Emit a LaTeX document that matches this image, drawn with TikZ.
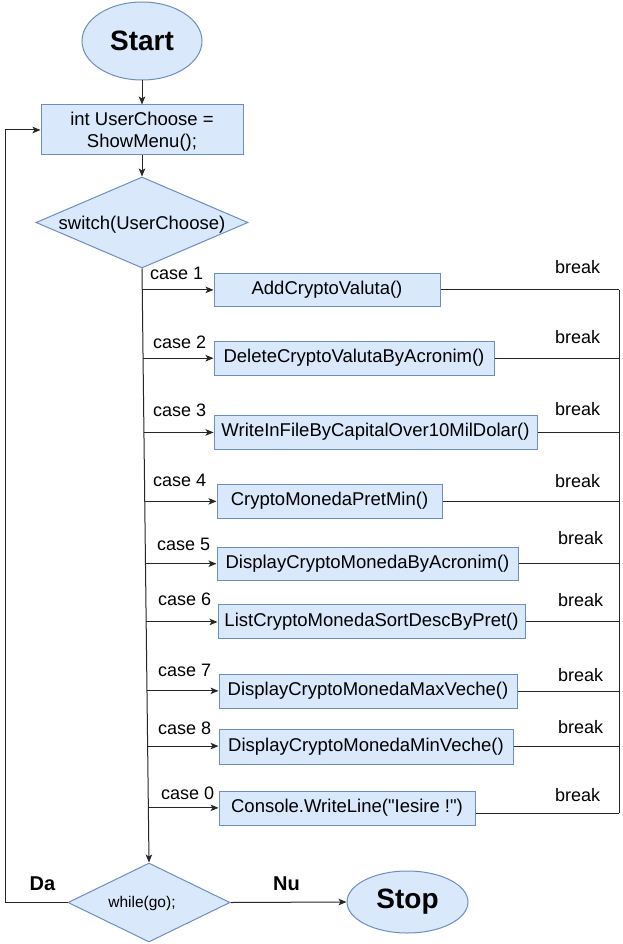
\documentclass[tikz,border=0pt]{standalone}
\usepackage{fontspec}
\setmainfont{Liberation Sans}[Ligatures=TeXOff]
\usetikzlibrary{shapes.geometric,arrows.meta,calc}
\definecolor{fillblue}{HTML}{DAE8FC}
\definecolor{strokeblue}{HTML}{6C8EBF}
\begin{document}
\begin{tikzpicture}[x=1pt,y=-1pt,
  blk/.style={draw=strokeblue,fill=fillblue,line width=1pt,inner sep=0pt},
  procbox/.style={blk,rectangle,font=\fontsize{18.5}{22}\selectfont},
  term/.style={blk,ellipse,font=\bfseries\fontsize{28}{32}\selectfont},
  decis/.style={blk,diamond},
  conn/.style={line width=1pt,draw=black!85},
  arr/.style={conn,-{Stealth[length=8pt,width=6.5pt,inset=2pt]}},
  lbl/.style={font=\fontsize{18}{20}\selectfont,inner sep=0pt,anchor=west},
  blbl/.style={font=\bfseries\fontsize{20}{22}\selectfont,inner sep=0pt}]
\fill[white] (0,0) rectangle (623,944);
\useasboundingbox (0,0) rectangle (623,944);

% main nodes
\node[term,minimum width=120pt,minimum height=78pt] (start) at (142,41) {Start};
\node[procbox,minimum width=202pt,minimum height=50pt,align=center,text depth=0pt] (init) at (142,130) {int UserChoose =\\[0pt]ShowMenu();};
\node[decis,minimum width=212pt,minimum height=91pt] (sw) at (142,222.5) {};
\node[font=\fontsize{18.5}{22}\selectfont,inner sep=0pt] (swt) at (142,225) {switch(UserChoose)};
\node[decis,minimum width=162pt,minimum height=79pt] (wh) at (149,902.5) {};
\node[font=\fontsize{15.5}{18}\selectfont,inner sep=0pt] (wht) at (142,903) {while(go);};
\node[term,minimum width=121pt,minimum height=62pt] (stop) at (407.5,902) {Stop};

% case boxes
\node[procbox,minimum width=226pt,minimum height=33pt] (c1) at (327,289.5) {AddCryptoValuta()};
\node[procbox,minimum width=280pt,minimum height=34pt] (c2) at (354,358) {DeleteCryptoValutaByAcronim()};
\node[procbox,minimum width=323pt,minimum height=34pt] (c3) at (375.5,432) {WriteInFileByCapitalOver10MilDolar()};
\node[procbox,minimum width=225pt,minimum height=34pt] (c4) at (329.5,501) {CryptoMonedaPretMin()};
\node[procbox,minimum width=301pt,minimum height=33pt] (c5) at (367.5,563.5) {DisplayCryptoMonedaByAcronim()};
\node[procbox,minimum width=307pt,minimum height=34pt] (c6) at (371.5,621.5) {ListCryptoMonedaSortDescByPret()};
\node[procbox,minimum width=298pt,minimum height=34pt] (c7) at (368,691) {DisplayCryptoMonedaMaxVeche()};
\node[procbox,minimum width=294pt,minimum height=35pt] (c8) at (366,746.5) {DisplayCryptoMonedaMinVeche()};
\node[procbox,minimum width=256pt,minimum height=34pt] (c0) at (347,808) {Console.WriteLine("Iesire !")};

% main flow
\draw[arr] (start.south) -- (init.north);
\draw[arr] (init.south) -- (sw.north);
\draw[arr] (sw.south) -- (wh.north);

% case arrows from main line
\foreach \b/\f in {c1/0.036,c2/0.151,c3/0.276,c4/0.392,c5/0.497,c6/0.595,c7/0.711,c8/0.804,c0/0.908}{
  \coordinate (s\b) at ($(sw.south)!\f!(wh.north)$);
  \draw[arr] (s\b) -- (s\b -| \b.west);
}

% break lines
\coordinate (rx) at (619,0);
\foreach \b in {c1,c2,c3,c4,c5,c6,c7,c8}{
  \draw[conn] (\b.east) -- (\b.east -| rx);
}
\coordinate (c0r) at ([yshift=-5pt]c0.east);
\draw[conn] (c0r) -- (c0r -| rx);
\draw[conn] (c1.east -| rx) -- (c0r -| rx);

% loop back
\coordinate (lx) at (5,0);
\draw[arr] (wh.west) -- (wh.west -| lx) |- (init.west);
\draw[arr] (wh.east) -- (stop.west);

% labels
\node[lbl] (l1) at (150,273) {case 1};
\node[lbl] (l2) at (153,342) {case 2};
\node[lbl] (l3) at (153,410) {case 3};
\node[lbl] (l4) at (153,480) {case 4};
\node[lbl] (l5) at (157,544) {case 5};
\node[lbl] (l6) at (158,599) {case 6};
\node[lbl] (l7) at (158,670) {case 7};
\node[lbl] (l8) at (158,728) {case 8};
\node[lbl] (l0) at (161,793) {case 0};

\node[lbl] (b1) at (555,267) {break};
\node[lbl] (b2) at (555,337) {break};
\node[lbl] (b3) at (555,409) {break};
\node[lbl] (b4) at (555,481) {break};
\node[lbl] (b5) at (558,538) {break};
\node[lbl] (b6) at (558,600) {break};
\node[lbl] (b7) at (558,675) {break};
\node[lbl] (b8) at (558,727) {break};
\node[lbl] (b0) at (555,795) {break};

\node[blbl] (da) at (42.5,884) {Da};
\node[blbl] (nu) at (286.5,884) {Nu};
\end{tikzpicture}
\end{document}
